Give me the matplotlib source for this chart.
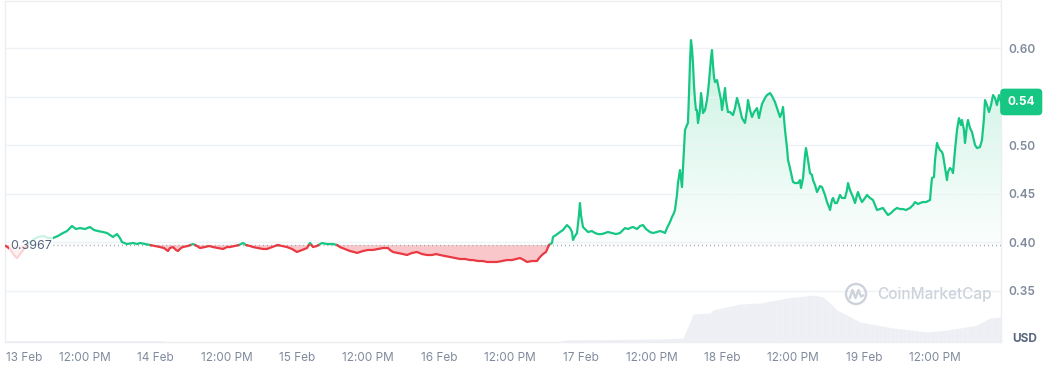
import numpy as np
import matplotlib
matplotlib.use("Agg")
import matplotlib.pyplot as plt
import matplotlib.transforms as mtransforms
from matplotlib.patches import Rectangle, Circle, PathPatch
from matplotlib.path import Path
from matplotlib.colors import to_rgb

plt.rcParams['font.family'] = ['Inter', 'DejaVu Sans']

# ---- data: hours since 13 Feb 00:00 and price in USD ----
hours = [-1.35, -0.68, 0.00, 0.51, 1.02, 1.69, 2.37, 3.22, 4.06, 5.08, 5.76, 6.61, 7.45, 8.30, 8.98,
         9.82, 10.50, 11.18, 12.03, 12.87, 13.55, 14.23, 15.07, 15.75, 16.26, 16.77, 17.45, 17.95,
         18.29, 19.14, 20.16, 20.83, 21.34, 22.19, 23.03, 23.88, 24.73, 25.41, 26.08, 26.42, 26.93,
         27.44, 27.78, 28.28, 28.62, 29.47, 30.32, 30.99, 31.50, 32.35, 33.03, 33.71, 34.55, 35.40,
         36.08, 36.58, 37.43, 38.11, 38.79, 39.29, 39.97, 40.48, 41.33, 42.17, 42.85, 43.70, 44.21,
         44.71, 45.39, 46.24, 47.09, 47.93, 48.78, 49.63, 50.13, 50.64, 51.32, 52.17, 53.01, 54.03,
         54.71, 55.21, 56.06, 56.91, 57.59, 58.09, 58.60, 59.11, 59.96, 60.80, 61.65, 62.50, 63.34,
         63.68, 64.19, 65.04, 65.89, 66.56, 67.41, 68.26, 69.10, 69.95, 70.80, 71.48, 72.15, 73.00,
         73.85, 74.69, 75.54, 76.39, 77.23, 77.74, 78.59, 79.43, 80.11, 80.96, 81.81, 82.65, 83.50,
         84.35, 85.02, 85.70, 86.38, 86.89, 87.73, 88.58, 89.09, 89.60, 90.11, 90.61, 91.12, 91.29,
         91.80, 92.48, 92.98, 93.66, 94.17, 94.51, 94.68, 95.02, 95.36, 95.69, 95.86, 96.03, 96.37,
         96.71, 97.22, 97.89, 98.40, 98.91, 99.59, 100.10, 100.61, 101.28, 101.96, 102.64, 102.98,
         103.49, 103.99, 104.33, 104.84, 105.52, 106.03, 106.53, 107.04, 107.72, 108.23, 108.90,
         109.41, 109.92, 110.26, 110.60, 111.11, 111.45, 111.78, 111.95, 112.29, 112.46, 112.80,
         113.14, 113.48, 113.65, 113.98, 114.15, 114.32, 114.49, 114.66, 114.83, 115.00, 115.17,
         115.34, 115.51, 115.68, 115.85, 116.19, 116.36, 116.53, 116.70, 117.04, 117.37, 117.54,
         117.71, 117.88, 118.05, 118.22, 118.39, 118.56, 118.73, 119.07, 119.41, 119.75, 119.92,
         120.26, 120.43, 120.59, 120.93, 121.27, 121.78, 122.12, 122.46, 122.80, 123.30, 123.81,
         124.15, 124.32, 124.66, 125.00, 125.34, 125.85, 126.18, 126.35, 126.69, 127.20, 127.54,
         128.05, 128.39, 128.89, 129.23, 129.74, 130.08, 130.25, 130.59, 130.93, 131.10, 131.43,
         131.94, 132.28, 132.79, 133.13, 133.30, 133.64, 133.98, 134.14, 134.48, 134.82, 135.16,
         135.33, 135.67, 136.01, 136.52, 136.85, 137.36, 137.70, 138.04, 138.21, 138.55, 138.72,
         139.06, 139.39, 139.90, 140.24, 140.75, 141.09, 141.26, 141.60, 142.10, 142.44, 142.78,
         142.95, 143.29, 143.63, 144.14, 144.47, 144.98, 145.49, 145.83, 146.17, 146.68, 147.18,
         147.52, 148.03, 148.54, 149.05, 149.56, 150.06, 150.57, 151.08, 151.76, 152.27, 152.60,
         153.11, 153.45, 153.96, 154.47, 154.81, 155.15, 155.31, 155.48, 155.82, 155.99, 156.33,
         156.50, 156.84, 157.18, 157.35, 157.69, 158.02, 158.19, 158.53, 158.87, 159.04, 159.38,
         159.72, 160.06, 160.39, 160.56, 160.90, 161.07, 161.41, 161.58, 161.92, 162.26, 162.77,
         163.10, 163.61, 163.95, 164.29, 164.46, 164.80, 165.14, 165.48, 165.82, 166.15, 166.49,
         166.83, 167.17]

price = [0.3959, 0.3928, 0.3866, 0.3835, 0.3876, 0.3928, 0.3979, 0.4021, 0.4052, 0.4062, 0.4041,
         0.4041, 0.4062, 0.4093, 0.4113, 0.4165, 0.4134, 0.4144, 0.4134, 0.4155, 0.4124, 0.4113,
         0.4103, 0.4093, 0.4072, 0.4052, 0.4082, 0.4041, 0.4000, 0.3979, 0.3990, 0.3979, 0.3990,
         0.3979, 0.3969, 0.3959, 0.3948, 0.3938, 0.3907, 0.3938, 0.3948, 0.3918, 0.3907, 0.3938,
         0.3948, 0.3959, 0.3979, 0.3959, 0.3938, 0.3948, 0.3959, 0.3948, 0.3938, 0.3928, 0.3948,
         0.3948, 0.3959, 0.3969, 0.3990, 0.3969, 0.3959, 0.3948, 0.3938, 0.3928, 0.3928, 0.3948,
         0.3959, 0.3969, 0.3959, 0.3948, 0.3928, 0.3897, 0.3918, 0.3938, 0.3990, 0.3948, 0.3959,
         0.3990, 0.3979, 0.3979, 0.3969, 0.3948, 0.3928, 0.3907, 0.3897, 0.3887, 0.3897, 0.3907,
         0.3918, 0.3918, 0.3928, 0.3938, 0.3938, 0.3918, 0.3897, 0.3887, 0.3876, 0.3866, 0.3887,
         0.3897, 0.3876, 0.3866, 0.3866, 0.3876, 0.3866, 0.3856, 0.3845, 0.3835, 0.3825, 0.3825,
         0.3814, 0.3814, 0.3804, 0.3804, 0.3794, 0.3794, 0.3794, 0.3804, 0.3814, 0.3814, 0.3825,
         0.3835, 0.3814, 0.3794, 0.3804, 0.3804, 0.3845, 0.3876, 0.3897, 0.3969, 0.3990, 0.4052,
         0.4072, 0.4103, 0.4124, 0.4175, 0.4144, 0.4103, 0.4021, 0.4062, 0.4093, 0.4278, 0.4402,
         0.4278, 0.4155, 0.4134, 0.4103, 0.4113, 0.4093, 0.4082, 0.4082, 0.4093, 0.4103, 0.4093,
         0.4082, 0.4093, 0.4113, 0.4144, 0.4134, 0.4144, 0.4155, 0.4134, 0.4165, 0.4175, 0.4134,
         0.4103, 0.4093, 0.4103, 0.4113, 0.4103, 0.4093, 0.4144, 0.4206, 0.4258, 0.4299, 0.4330,
         0.4485, 0.4608, 0.4742, 0.4567, 0.4948, 0.5155, 0.5206, 0.5227, 0.5515, 0.5845, 0.6082,
         0.6000, 0.5845, 0.5619, 0.5464, 0.5361, 0.5361, 0.5227, 0.5361, 0.5536, 0.5464, 0.5330,
         0.5361, 0.5464, 0.5546, 0.5649, 0.5773, 0.5897, 0.5979, 0.5825, 0.5701, 0.5649, 0.5670,
         0.5567, 0.5464, 0.5361, 0.5515, 0.5588, 0.5464, 0.5340, 0.5340, 0.5309, 0.5381, 0.5485,
         0.5412, 0.5278, 0.5227, 0.5361, 0.5464, 0.5361, 0.5289, 0.5340, 0.5381, 0.5278, 0.5330,
         0.5423, 0.5485, 0.5515, 0.5536, 0.5505, 0.5443, 0.5381, 0.5289, 0.5340, 0.5392, 0.5155,
         0.4969, 0.4845, 0.4763, 0.4619, 0.4608, 0.4608, 0.4639, 0.4557, 0.4660, 0.4897, 0.4969,
         0.4845, 0.4711, 0.4691, 0.4639, 0.4588, 0.4515, 0.4577, 0.4567, 0.4485, 0.4412, 0.4361,
         0.4330, 0.4433, 0.4454, 0.4402, 0.4402, 0.4485, 0.4454, 0.4454, 0.4536, 0.4608, 0.4536,
         0.4464, 0.4402, 0.4485, 0.4515, 0.4454, 0.4412, 0.4454, 0.4485, 0.4454, 0.4433, 0.4381,
         0.4330, 0.4340, 0.4351, 0.4320, 0.4278, 0.4299, 0.4330, 0.4351, 0.4340, 0.4340, 0.4330,
         0.4351, 0.4381, 0.4412, 0.4392, 0.4402, 0.4412, 0.4412, 0.4423, 0.4433, 0.4557, 0.4660,
         0.4670, 0.4845, 0.5021, 0.4990, 0.4948, 0.4928, 0.4897, 0.4763, 0.4639, 0.4722, 0.4763,
         0.4742, 0.4711, 0.4948, 0.5155, 0.5278, 0.5206, 0.5258, 0.5155, 0.5021, 0.5206, 0.5258,
         0.5175, 0.5134, 0.5000, 0.4969, 0.4979, 0.5052, 0.5278, 0.5464, 0.5412, 0.5340, 0.5412,
         0.5515, 0.5485, 0.5412, 0.5515, 0.5444]

vol_hours = [-1.52, 24.73, 25.60, 92.48, 93.30, 109.41, 113.31, 114.49, 115.00, 117.88, 118.39,
             122.97, 126.35, 130.93, 135.33, 137.02, 138.21, 139.39, 141.09, 143.29, 146.17,
             148.88, 154.64, 158.02, 160.23, 163.10, 165.30, 167.17]
vol_musd = [1.5, 1.5, 0.6, 0.6, 2.0, 3.0, 4.0, 20.0, 28.0, 29.0, 32.0, 38.0, 39.0, 44.0, 47.0,
            45.0, 39.0, 32.0, 27.0, 20.0, 17.0, 14.0, 10.0, 12.0, 14.0, 17.0, 24.0, 25.0]

base_price = 0.3967
tick_hours = [0, 12, 24, 36, 48, 60, 72, 84, 96, 108, 120, 132, 144, 156]
tick_labels = ["13 Feb", "12:00 PM", "14 Feb", "12:00 PM", "15 Feb", "12:00 PM", "16 Feb",
               "12:00 PM", "17 Feb", "12:00 PM", "18 Feb", "12:00 PM", "19 Feb", "12:00 PM"]
ytick_vals = [0.35, 0.40, 0.45, 0.50, 0.55, 0.60]

GREEN = '#16c784'
RED = '#ea3943'
GRID = '#eff2f5'
LABEL = '#808a9d'

XMIN, XMAX = -1.52, 167.17
YMIN, YMAX = 0.2969, 0.6485

fig = plt.figure(figsize=(10.45, 3.70), dpi=100)
rect = [5 / 1045, 28 / 370, 996 / 1045, 341 / 370]

# volume area (background axes)
axv = fig.add_axes(rect)
axv.fill_between(vol_hours, vol_musd, 0, color='#eceef3', lw=0)
for hv in np.arange(XMIN, XMAX, 0.45):
    axv.axvline(hv, color='white', lw=0.35, alpha=0.7)
axv.set_xlim(XMIN, XMAX)
axv.set_ylim(0, 341)
axv.axis('off')

ax = fig.add_axes(rect)
ax.patch.set_alpha(0)

h = np.asarray(hours)
p = np.asarray(price)
b = base_price

# insert baseline crossings
H = [h[0]]
P = [p[0]]
for i in range(1, len(h)):
    p0, p1 = p[i - 1], p[i]
    if (p0 - b) * (p1 - b) < 0:
        t = (b - p0) / (p1 - p0)
        H.append(h[i - 1] + t * (h[i] - h[i - 1]))
        P.append(b)
    H.append(h[i])
    P.append(p[i])
H = np.array(H)
P = np.array(P)
up = np.where(P >= b, P, np.nan)
dn = np.where(P <= b, P, np.nan)

# green gradient fill
poly = ax.fill_between(H, P, b, where=P >= b, facecolor='none', lw=0)
paths = poly.get_paths()
cp = Path.make_compound_path(*paths)
clip = PathPatch(cp, transform=ax.transData, facecolor='none', edgecolor='none')
ax.add_patch(clip)
img = np.zeros((256, 1, 4))
img[..., :3] = to_rgb(GREEN)
img[..., 3] = np.linspace(0.015, 0.24, 256)[:, None]
im = ax.imshow(img, extent=[XMIN, XMAX, b, 0.612], origin='lower', aspect='auto',
               zorder=1, interpolation='bilinear')
im.set_clip_path(clip)

# red fill
ax.fill_between(H, P, b, where=P <= b, color=RED, alpha=0.28, lw=0, zorder=1)

ax.plot(H, up, color=GREEN, lw=1.6, zorder=3, solid_joinstyle='round')
ax.plot(H, dn, color=RED, lw=1.6, zorder=3, solid_joinstyle='round')

# baseline label and dotted line
ax.add_patch(Rectangle((-0.85, 0.3794), 7.45, 0.0319, facecolor='white', alpha=0.78,
                       edgecolor='none', zorder=4))
ax.text(-0.55, b - 0.0008, f"{b:.4f}", ha='left', va='center', fontsize=9,
        color='#58667e', zorder=5)
ax.hlines(b, 6.6, XMAX, colors='#9ba1ad', linestyles=(0, (0.7, 2.2)), lw=1.0, zorder=2)

ax.set_xlim(XMIN, XMAX)
ax.set_ylim(YMIN, YMAX)

# y axis right; the label hidden under the last-price badge is left blank
last = p[-1]
ax.set_yticks(ytick_vals)
ax.set_yticklabels(["" if abs(v - last) < 0.012 else f"{v:.2f}" for v in ytick_vals])
ax.yaxis.tick_right()
ax.tick_params(axis='y', length=0, pad=5, labelsize=8.5, labelcolor=LABEL)
for lab in ax.get_yticklabels():
    lab.set_fontweight('semibold')
ax.grid(axis='y', color=GRID, lw=1)

ax.set_xticks(tick_hours)
ax.set_xticklabels(tick_labels)
ax.tick_params(axis='x', length=0, pad=7, labelsize=8.5, labelcolor=LABEL)
first = ax.get_xticklabels()[0]
first.set_transform(first.get_transform() + mtransforms.ScaledTranslation(0.10, 0, fig.dpi_scale_trans))

for s in ax.spines.values():
    s.set_color('#eceef1')
    s.set_linewidth(1)

# last price badge
blend = mtransforms.blended_transform_factory(ax.transAxes, ax.transData)
ax.text(1.0065, last, f"{last:.2f}", transform=blend, ha='left', va='center',
        color='white', fontsize=8.5, fontweight='bold', clip_on=False, zorder=10,
        bbox=dict(boxstyle='round,pad=0.62,rounding_size=0.35', fc=GREEN, ec='none'))

fig.text(1025 / 1045, 1 - 339 / 370, "USD", ha='center', va='center', fontsize=8.5,
         fontweight='bold', color='#58667e')

# watermark
WM = '#cdd2db'
fig.text(877 / 1045, 1 - 295 / 370, "CoinMarketCap", ha='left', va='center', fontsize=11,
         fontweight='medium', color=WM)
fig.add_artist(Circle((856, 76), 10, transform=mtransforms.IdentityTransform(), fill=False,
                      ec=WM, lw=1.7))
wave = Path([(849.5, 71), (852.5, 80), (855.5, 72), (858.5, 80), (861, 73.5), (864, 75)])
fig.add_artist(PathPatch(wave, transform=mtransforms.IdentityTransform(), fill=False,
                         ec=WM, lw=1.7, joinstyle='round'))

fig.savefig("out.png", dpi=100)
